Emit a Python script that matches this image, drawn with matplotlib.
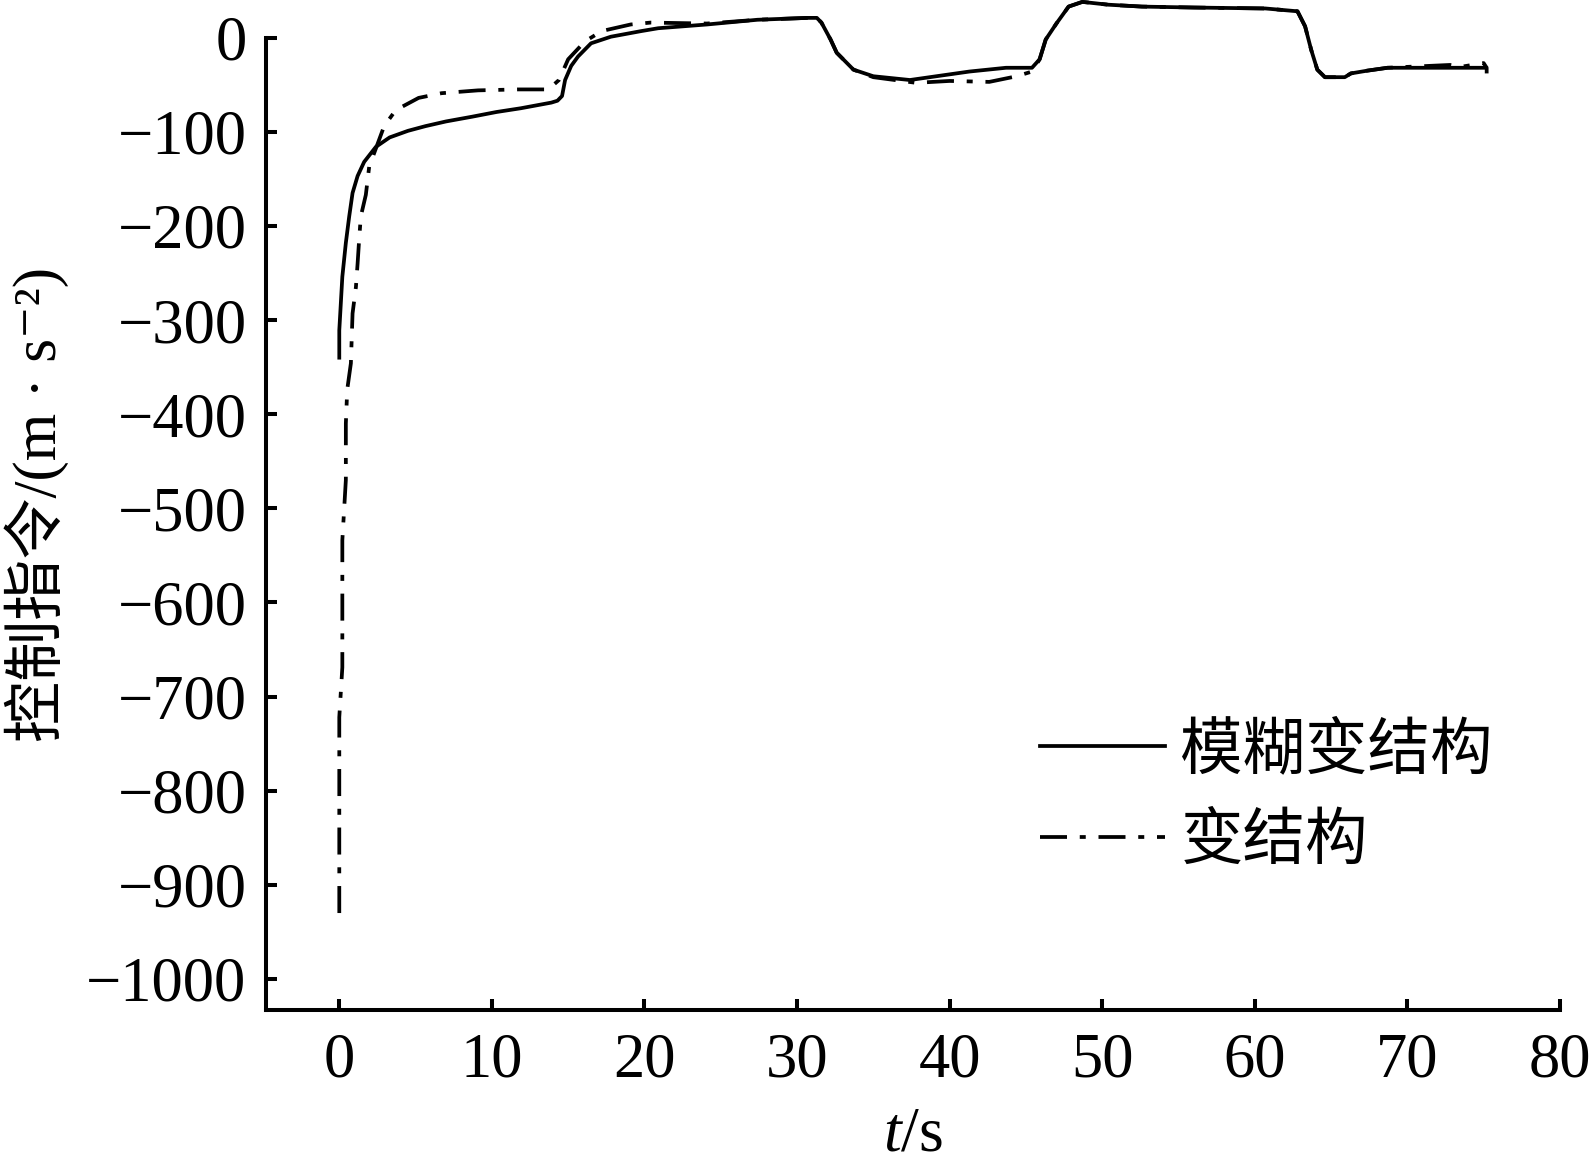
import matplotlib
matplotlib.use('Agg')
import matplotlib.pyplot as plt

# time (s) and control command (m/s^2)
t_fuzzy = [0, 0, 0.2, 0.43, 0.65, 0.87, 1.2, 1.63, 2.4, 3.3, 4.5, 5.65, 7.0, 8.7, 10.3,
           11.9, 13.9, 14.3, 14.6, 14.8, 15.2, 15.65, 16.5, 17.8, 19.8, 20.9, 24.1, 27.4,
           30.7, 31.3, 31.6, 32.2, 32.6, 33.7, 35.0, 37.4, 40.0, 41.3, 43.7, 45.4, 45.9,
           46.3, 47.0, 47.8, 48.7, 50.4, 52.6, 56.0, 60.7, 62.8, 63.3, 63.7, 64.1, 64.6,
           65.9, 66.3, 67.4, 68.7, 72.0, 75.2, 75.2]
u_fuzzy = [-340, -311, -254, -218, -190, -165, -147, -132, -116, -106, -99, -94, -89, -84, -79,
           -75, -69, -67, -62, -45, -30, -20, -6, 1, 7, 10, 14, 19,
           21, 21, 16, -2, -16, -34, -41, -45, -39, -36, -32, -32, -23,
           -2, 15, 33, 38, 35, 33, 32, 31, 28, 12, -13, -34, -42,
           -42, -38, -35, -32, -32, -32, -36]

t_vsc = [0, 0, 0.2, 0.2, 0.43, 0.43, 0.52, 0.76, 0.87, 1.09, 1.2, 1.3, 1.41, 1.74, 1.96,
         2.94, 3.7, 5.2, 6.7, 9.1, 11.7, 13.7, 14.4, 15.0, 16.1, 17.2, 19.1, 20.4, 24.1,
         27.4, 30.7, 31.3, 31.6, 32.2, 32.6, 33.7, 35.0, 37.8, 40.0, 42.6, 44.4, 45.4,
         45.9, 46.3, 47.0, 47.8, 48.7, 50.4, 52.6, 56.0, 60.7, 62.8, 63.3, 63.7, 64.1,
         64.6, 65.9, 66.3, 67.4, 68.7, 72.8, 73.5, 75.0, 75.2]
u_vsc = [-930, -722, -669, -534, -470, -410, -374, -346, -293, -265, -240, -215, -190, -167, -137,
         -94, -77, -64, -59, -56, -55, -55, -45, -23, -4, 7, 14, 16, 15,
         19, 21, 21, 16, -2, -16, -34, -42, -48, -46, -47, -41, -36,
         -23, -2, 15, 33, 38, 35, 33, 32, 31, 28, 12, -13, -34,
         -42, -42, -38, -35, -32, -29, -31, -27, -32]

x_ticks = [0, 10, 20, 30, 40, 50, 60, 70, 80]
y_ticks = [0, -100, -200, -300, -400, -500, -600, -700, -800, -900, -1000]

labels = ['模糊变结构', '变结构']

plt.rcParams['font.family'] = ['Liberation Serif', 'Noto Sans CJK SC', 'DejaVu Serif']
plt.rcParams['mathtext.fontset'] = 'custom'
plt.rcParams['mathtext.rm'] = 'Liberation Serif'
plt.rcParams['mathtext.it'] = 'Liberation Serif:italic'

fig = plt.figure(figsize=(15.95, 11.71), dpi=100)
ax = fig.add_axes([0.1668, 0.1375, 0.8112, 0.8625])

ax.plot(t_fuzzy, u_fuzzy, color='black', lw=2.7, label=labels[0])
ax.plot(t_vsc, u_vsc, color='black', lw=2.7, linestyle=(0, (7.2, 3.4, 1.6, 3.4)),
        label=labels[1])

ax.set_xlim(-4.8, 80)
ax.set_ylim(-1033, 40)
ax.set_xticks(x_ticks)
ax.set_yticks(y_ticks)
ax.set_xticklabels([str(v) for v in x_ticks])
ax.set_yticklabels([str(v).replace('-', '\u2212') for v in y_ticks])

for side in ['top', 'right']:
    ax.spines[side].set_visible(False)
for side in ['left', 'bottom']:
    ax.spines[side].set_linewidth(2.9)
ax.spines['left'].set_bounds(-1033, 0)

ax.tick_params(direction='in', length=8, width=2.9, labelsize=45)
ax.tick_params(axis='y', pad=14)
ax.tick_params(axis='x', pad=16)

ax.set_xlabel('$t$/s', fontsize=46, labelpad=12)
ax.set_ylabel('控制指令/(m · s\u207b\u00b2)', fontsize=44)
ax.yaxis.set_label_coords(-0.152, 0.5)

ax.legend(loc='upper left', bbox_to_anchor=(0.598, 0.284), frameon=False,
          fontsize=45, handlelength=2.0, handletextpad=0.25, labelspacing=0.52,
          borderpad=0, borderaxespad=0)

fig.savefig('out.png', dpi=100)
